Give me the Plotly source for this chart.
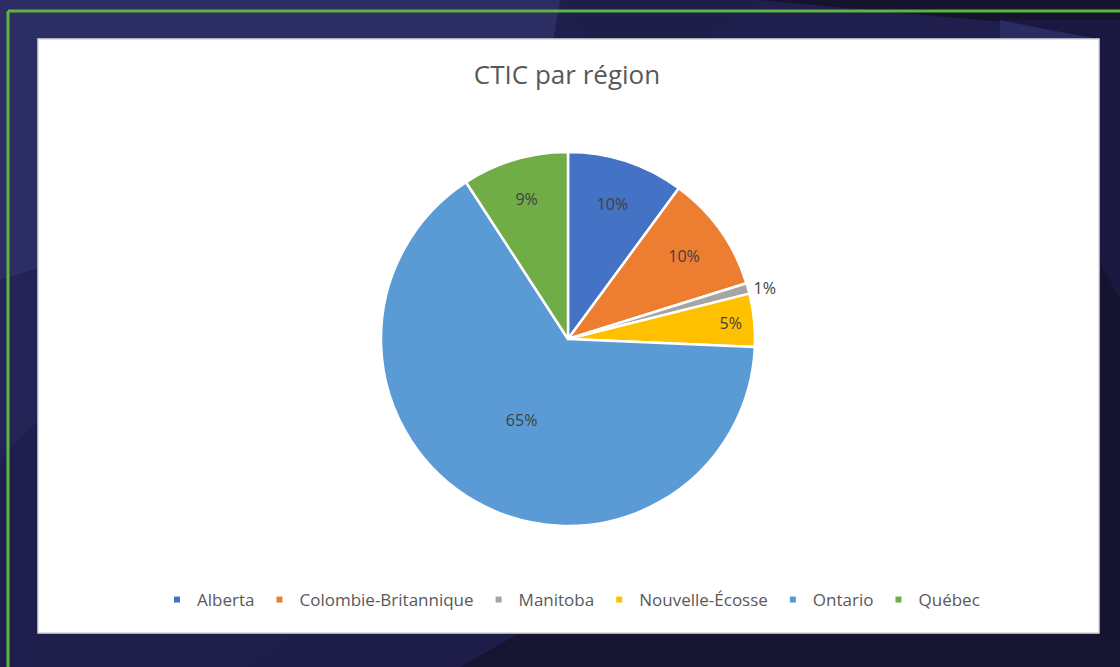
import plotly.graph_objects as go

# ---- data ----
regions = ["Alberta", "Colombie-Britannique", "Manitoba", "Nouvelle-Écosse", "Ontario", "Québec"]
counts = [11, 11, 1, 5, 71, 10]
colors = ["#4472c4", "#ed7d31", "#a5a5a5", "#ffc000", "#5b9bd5", "#70ad47"]
text_positions = ["inside", "inside", "outside", "inside", "inside", "inside"]
title_text = "CTIC par région"

W, H = 1120, 667


def px(x):
    return x / W


def py(y):
    return 1 - y / H


def poly(points):
    return "M " + " L ".join(f"{px(x):.4f},{py(y):.4f}" for x, y in points) + " Z"


fig = go.Figure()

fig.add_trace(go.Pie(
    labels=regions,
    values=counts,
    sort=False,
    direction="clockwise",
    rotation=0,
    marker=dict(colors=colors, line=dict(color="white", width=2.5)),
    texttemplate="%{percent:.0%}",
    textposition=text_positions,
    insidetextorientation="horizontal",
    textfont=dict(family="Open Sans", size=16, color="#404040"),
    outsidetextfont=dict(family="Open Sans", size=16, color="#404040"),
    showlegend=False,
    hoverinfo="label+percent",
    domain=dict(x=[px(568 - 260), px(568 + 260)], y=[py(339 + 187), py(339 - 187)]),
))

# legend entries (small square markers)
for name, c in zip(regions, colors):
    fig.add_trace(go.Scatter(
        x=[None], y=[None], mode="markers", name=name,
        marker=dict(symbol="square", size=6, color=c),
        showlegend=True,
    ))

# decorative background polygons
bg_polys = [
    ([(0, 0), (560, 0), (540, 120), (0, 280)], "#2b2d63"),
    ([(560, 0), (760, 0), (700, 40), (600, 60)], "#1f1d4a"),
    ([(760, 0), (1120, 0), (1120, 30), (980, 20)], "#16132f"),
    ([(0, 280), (38, 270), (38, 420), (0, 460)], "#242355"),
    ([(0, 460), (38, 420), (38, 667), (0, 667)], "#1f1e4d"),
    ([(1000, 20), (1120, 20), (1120, 300), (1099, 260)], "#1a1840"),
    ([(1099, 260), (1120, 300), (1120, 667), (1099, 667)], "#15132f"),
    ([(38, 633), (300, 633), (250, 667), (38, 667)], "#201f4c"),
    ([(300, 633), (520, 633), (460, 667), (250, 667)], "#1e1c48"),
    ([(520, 633), (1120, 633), (1120, 667), (460, 667)], "#161430"),
    ([(1000, 20), (1050, 30), (1099, 39), (1000, 39)], "#2a2b60"),
]
shapes = []
for pts, col in bg_polys:
    shapes.append(dict(type="path", path=poly(pts), xref="paper", yref="paper",
                       fillcolor=col, line=dict(width=0), layer="below"))

# white chart area
shapes.append(dict(type="rect", xref="paper", yref="paper",
                   x0=px(38), x1=px(1099), y0=py(633), y1=py(39),
                   fillcolor="white", line=dict(color="#d9d9d9", width=1.5), layer="below"))
# green frame lines
shapes.append(dict(type="line", xref="paper", yref="paper",
                   x0=px(8), x1=1, y0=py(11), y1=py(11),
                   line=dict(color="#5cb540", width=3), layer="below"))
shapes.append(dict(type="line", xref="paper", yref="paper",
                   x0=px(8), x1=px(8), y0=0, y1=py(11),
                   line=dict(color="#5cb540", width=3), layer="below"))

fig.update_layout(
    width=W, height=H,
    margin=dict(l=0, r=0, t=0, b=0),
    paper_bgcolor="#1f1e4d",
    plot_bgcolor="rgba(0,0,0,0)",
    shapes=shapes,
    title=dict(text=title_text, x=px(567), xanchor="center", y=py(75), yanchor="middle",
               font=dict(family="Open Sans", size=26, color="#595959")),
    legend=dict(orientation="h", x=px(571), xanchor="center", y=py(600), yanchor="middle",
                font=dict(family="Open Sans", size=17, color="#595959"),
                bgcolor="rgba(0,0,0,0)", itemsizing="trace", tracegroupgap=0),
    xaxis=dict(visible=False, domain=[0, 0.01]),
    yaxis=dict(visible=False, domain=[0, 0.01]),
    showlegend=True,
)

fig.write_html("out.html", config={"displayModeBar": False},
               post_script="document.body.style.margin='0';document.body.style.overflow='hidden';")
